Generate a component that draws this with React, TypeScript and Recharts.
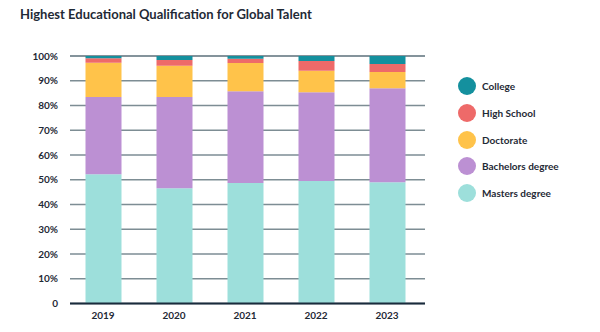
import React from 'react';
import { BarChart, Bar, XAxis, YAxis, CartesianGrid } from 'recharts';

const years = ['2019', '2020', '2021', '2022', '2023'];
const masters = [52.2, 46.6, 48.7, 49.5, 49.0];
const bachelors = [31.2, 36.8, 37.1, 35.9, 38.0];
const doctorate = [13.9, 12.7, 11.4, 8.6, 6.5];
const highSchool = [1.8, 2.3, 1.7, 4.0, 3.3];
const college = [0.9, 1.6, 1.1, 2.0, 3.2];
const yTicks = [0, 10, 20, 30, 40, 50, 60, 70, 80, 90, 100];

// bottom to top in the stack
const series = [
  { key: 'masters', name: 'Masters degree', color: '#9ddfdb', values: masters },
  { key: 'bachelors', name: 'Bachelors degree', color: '#bc90d3', values: bachelors },
  { key: 'doctorate', name: 'Doctorate', color: '#ffc34a', values: doctorate },
  { key: 'highSchool', name: 'High School', color: '#ee6a69', values: highSchool },
  { key: 'college', name: 'College', color: '#14909e', values: college },
];

const data = years.map((year, i) => {
  const row: Record<string, string | number> = { year };
  series.forEach((s) => {
    row[s.key] = s.values[i];
  });
  return row;
});

const font = 'Lato, "Open Sans", sans-serif';
const textColor = '#1f2a36';

const LegendBox = () => (
  <div style={{ position: 'absolute', left: 458, top: 73 }}>
    {[...series].reverse().map((s) => (
      <div
        key={s.key}
        style={{ display: 'flex', alignItems: 'center', height: 26.7 }}
      >
        <span
          style={{
            width: 18,
            height: 18,
            borderRadius: '50%',
            background: s.color,
            display: 'inline-block',
            marginRight: 6,
          }}
        />
        <span style={{ fontSize: 10, fontWeight: 700, color: textColor }}>{s.name}</span>
      </div>
    ))}
  </div>
);

export default function App() {
  return (
    <div
      style={{
        position: 'absolute',
        left: 0,
        top: 0,
        width: 600,
        height: 332,
        background: '#fff',
        fontFamily: font,
      }}
    >
      <div
        style={{
          position: 'absolute',
          left: 20,
          top: 6,
          fontSize: 13,
          fontWeight: 700,
          color: textColor,
        }}
      >
        Highest Educational Qualification for Global Talent
      </div>
      <BarChart
        width={600}
        height={332}
        data={data}
        margin={{ top: 56, right: 175, bottom: 0, left: 0 }}
        barSize={36}
      >
        <CartesianGrid vertical={false} stroke="#7d8d94" strokeWidth={1.5} />
        <XAxis
          dataKey="year"
          height={28.5}
          tickLine={false}
          axisLine={{ stroke: '#1a2b3c', strokeWidth: 2 }}
          padding={{ left: -2.5, right: 2.5 }}
          tick={{ fontSize: 10, fontWeight: 700, fill: textColor, fontFamily: font }}
        />
        <YAxis
          width={70}
          domain={[0, 100]}
          ticks={yTicks}
          tickLine={false}
          axisLine={false}
          tickMargin={6}
          tickFormatter={(v: number) => (v === 0 ? '0' : `${v}%`)}
          tick={{ fontSize: 10, fontWeight: 700, fill: textColor, fontFamily: font }}
        />
        {series.map((s) => (
          <Bar
            key={s.key}
            dataKey={s.key}
            name={s.name}
            stackId="a"
            fill={s.color}
            isAnimationActive={false}
          />
        ))}
      </BarChart>
      <LegendBox />
    </div>
  );
}
